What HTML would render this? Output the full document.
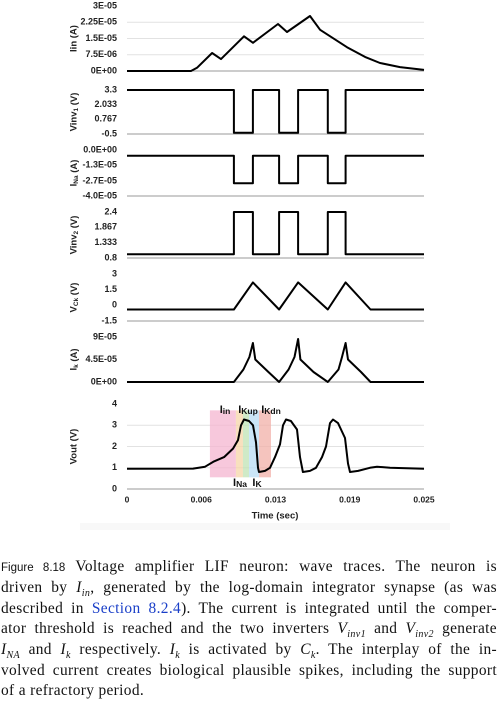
<!DOCTYPE html>
<html><head><meta charset="utf-8"><style>
body{margin:0;background:#fff;width:500px;height:701px;overflow:hidden;position:relative}
svg{position:absolute;left:0;top:0}
.cap{position:absolute;left:1px;width:496px;font-family:"Liberation Serif",serif;font-size:15.4px;color:#111;line-height:20.7px;text-align:justify;text-align-last:justify;white-space:nowrap;letter-spacing:0.35px}
.cap.last{text-align-last:left}
.fig{font-family:"Liberation Sans",sans-serif;font-size:11.5px;letter-spacing:0}
.lnk{color:#1a3fc8}
i sub{font-size:10px}
</style></head><body>
<svg id="chart" width="500" height="530" font-family="Liberation Sans, sans-serif"></svg>
<div class="cap" style="top:557px"><span class="fig">Figure 8.18</span> Voltage amplifier LIF neuron: wave traces. The neuron is</div>
<div class="cap" style="top:578px">driven by <i>I<sub>in</sub></i>, generated by the log-domain integrator synapse (as was</div>
<div class="cap" style="top:599px">described in <span class="lnk">Section 8.2.4</span>). The current is integrated until the comper-</div>
<div class="cap" style="top:619px">ator threshold is reached and the two inverters <i>V<sub>inv1</sub></i> and <i>V<sub>inv2</sub></i> generate</div>
<div class="cap" style="top:640px"><i>I<sub>NA</sub></i> and <i>I<sub>k</sub></i> respectively. <i>I<sub>k</sub></i> is activated by <i>C<sub>k</sub></i>. The interplay of the in-</div>
<div class="cap" style="top:661px">volved current creates biological plausible spikes, including the support</div>
<div class="cap last" style="top:681px">of a refractory period.</div>
<script>
// ---- data ----
const iinT = [0,0.00539,0.00589,0.00716,0.00791,0.00985,0.01061,0.01271,0.01347,0.0154,0.01625,0.01852,0.02003,0.0213,0.02298,0.025];
const iinV = [0,0,0.15e-5,0.83e-5,0.55e-5,1.6e-5,1.3e-5,2.17e-5,1.8e-5,2.54e-5,1.9e-5,1.1e-5,0.65e-5,0.37e-5,0.18e-5,0.05e-5];
const edgeT = [0.0090,0.0106,0.0128,0.0144,0.0169,0.0184];
const vinv1Hi = 3.3, vinv1Lo = -0.4;
const inaHi = -0.5e-5, inaLo = -2.9e-5;
const vinv2Hi = 2.4, vinv2Lo = 0.93;
const vckT = [0,0.0090,0.0106,0.0128,0.0144,0.0169,0.0184,0.0205,0.025];
const vckV = [-0.4,-0.4,2.2,-0.4,2.2,-0.4,2.2,-0.4,-0.4];
const ikT = [0,0.0090,0.0098,0.0103,0.0106,0.0108,0.0119,0.0128,0.0136,0.0141,0.0144,0.0146,0.0157,0.0169,0.0178,0.0181,0.0184,0.0186,0.0197,0.0205,0.025];
const ikV = [0,0,2.5e-5,5e-5,7.8e-5,4.5e-5,2e-5,0,2.5e-5,5e-5,8.6e-5,4.5e-5,2e-5,0,2.5e-5,5e-5,7.8e-5,4.5e-5,2e-5,0,0];
const voutT = [0,0.00556,0.00657,0.00732,0.00817,0.00892,0.00934,0.0096,0.00985,0.01027,0.01061,0.01086,0.01103,0.01111,0.01162,0.01204,0.01246,0.01288,0.01313,0.01338,0.0138,0.01431,0.01456,0.01481,0.0154,0.01591,0.01641,0.01675,0.01709,0.01734,0.01776,0.01835,0.0186,0.01877,0.01945,0.02045,0.02104,0.02214,0.025];
const voutV = [0.95,0.96,1.05,1.3,1.5,1.9,2.3,3.0,3.27,3.2,3.0,2.2,1.0,0.8,0.85,1.0,1.5,2.1,3.0,3.27,3.2,2.8,1.5,0.8,0.85,1.0,1.5,2.0,3.1,3.27,3.1,2.4,1.2,0.8,0.85,1.0,1.05,1.0,0.95];
const timeTicks = [0,0.00625,0.0125,0.01875,0.025];
const timeLabels = ["0","0.006","0.013","0.019","0.025"];
// ---- drawing ----
const NS="http://www.w3.org/2000/svg";
const svg=document.getElementById('chart');
const X0=127,X1=424;
const xs=t=>X0+(t-0)/0.025*(X1-X0);
function mk(tag,attrs,parent){const e=document.createElementNS(NS,tag);for(const k in attrs)e.setAttribute(k,attrs[k]);(parent||svg).appendChild(e);return e;}
function txt(x,y,s,anchor,size){const e=mk('text',{x:x,y:y,'text-anchor':anchor||'end','font-size':size||9,'font-weight':'bold',fill:'#222','dominant-baseline':'middle'});e.textContent=s;return e;}
function panel(name,yTop,yBot,vMax,vMin,ticks,labels,title,grid){
  const g=mk('g',{});
  
  
  const ys=v=>yTop+(vMax-v)/(vMax-vMin)*(yBot-yTop);
  ticks.forEach((v,i)=>{
    const y=ys(v);
    if(grid&&i>0) {mk('line',{x1:X0,x2:X1,y1:y,y2:y,stroke:'#e2e2e2','stroke-width':1},g);}
    const t=txt(117,y,labels[i]);g.appendChild(t);
    
    
  });
  const ax=mk('line',{x1:X0,x2:X1,y1:yBot,y2:yBot,stroke:'#999','stroke-width':1},g);
  
  
  const tt=mk('text',{transform:`translate(74,${(yTop+yBot)/2}) rotate(-90)`,'text-anchor':'middle','font-size':9.5,'font-weight':'bold',fill:'#222','dominant-baseline':'middle'},g);
  tt.innerHTML=title;
  
  
  return {g,ys};
}
function line(p,T,V,name){
  const d=T.map((t,i)=>(i?'L':'M')+xs(t).toFixed(1)+','+p.ys(V[i]).toFixed(1)).join('');
  const e=mk('path',{d:d,fill:'none',stroke:'#000','stroke-width':2,'stroke-linejoin':'round'},p.g);
  
  
}
function square(p,hi,lo,inverted,name){
  const T=[0],V=[inverted?hi:lo];
  edgeT.forEach((t,i)=>{const a=(i%2==0)?(inverted?hi:lo):(inverted?lo:hi);const b=(i%2==0)?(inverted?lo:hi):(inverted?hi:lo);T.push(t,t);V.push(a,b);});
  T.push(0.025);V.push(inverted?hi:lo);
  line(p,T,V,name);
}
let p=panel('iin',6,71,3e-5,0,[3e-5,2.25e-5,1.5e-5,0.75e-5,0],['3E-05','2.25E-05','1.5E-05','7.5E-06','0E+00'],'Iin (A)',true);
line(p,iinT,iinV,'iin-trace');
p=panel('vinv1',90,134,3.3,-0.5,[3.3,2.033,0.767,-0.5],['3.3','2.033','0.767','-0.5'],'Vinv<tspan font-size="6.5" dy="2">1</tspan><tspan dy="-2"> (V)</tspan>',false);
square(p,vinv1Hi,vinv1Lo,true,'vinv1-trace');
p=panel('ina',150,196,0,-4e-5,[0,-1.3e-5,-2.7e-5,-4e-5],['0.0E+00','-1.3E-05','-2.7E-05','-4.0E-05'],'I<tspan font-size="6.5" dy="2">Na</tspan><tspan dy="-2"> (A)</tspan>',false);
square(p,inaHi,inaLo,true,'ina-trace');
p=panel('vinv2',212,258,2.4,0.8,[2.4,1.867,1.333,0.8],['2.4','1.867','1.333','0.8'],'Vinv<tspan font-size="6.5" dy="2">2</tspan><tspan dy="-2"> (V)</tspan>',false);
square(p,vinv2Hi,vinv2Lo,false,'vinv2-trace');
p=panel('vck',274,321,3,-1.5,[3,1.5,0,-1.5],['3','1.5','0','-1.5'],'V<tspan font-size="6.5" dy="2">Ck</tspan><tspan dy="-2"> (V)</tspan>',false);
line(p,vckT,vckV,'vck-trace');
p=panel('ik',337,382,9e-5,0,[9e-5,4.5e-5,0],['9E-05','4.5E-05','0E+00'],'I<tspan font-size="6.5" dy="2">k</tspan><tspan dy="-2"> (A)</tspan>',false);
line(p,ikT,ikV,'ik-trace');
p=panel('vout',404,489,4,0,[4,3,2,1,0],['4','3','2','1','0'],'Vout (V)',true);
const bands=[[0.00698,0.00917,'#f4b6d0','iin-phase'],[0.00917,0.00976,'#f6d6a8','ina-phase'],[0.00976,0.01027,'#bfe3b4','kup-phase'],[0.01027,0.01111,'#b8dcf4','ik-phase'],[0.01111,0.01212,'#f2b0a8','kdn-phase']];
bands.forEach(b=>{const r=mk('rect',{x:xs(b[0]),y:p.ys(3.7),width:xs(b[1])-xs(b[0]),height:p.ys(0.55)-p.ys(3.7),fill:b[2],opacity:0.75},p.g);
 
 });
line(p,voutT,voutV,'vout-trace');
[[225,410,'I','in'],[248,410,'I','Kup'],[271,410,'I','Kdn'],[240,483,'I','Na'],[257,483,'I','K']].forEach(a=>{
  const t=mk('text',{x:a[0],y:a[1],'text-anchor':'middle','font-size':11,'font-weight':'bold',fill:'#111','dominant-baseline':'middle'},p.g);
  t.innerHTML=a[2]+'<tspan font-size="8.5" dy="2">'+a[3]+'</tspan>';
  
  
});
timeTicks.forEach((v,i)=>{const t=txt(xs(v),500,timeLabels[i],'middle',8.5);
 
 });
const xt=txt(275,516,'Time (sec)','middle',9.5);


const sh=mk('rect',{x:80,y:523,width:370,height:7,fill:'#f8f8f8'});


</script>
</body></html>
